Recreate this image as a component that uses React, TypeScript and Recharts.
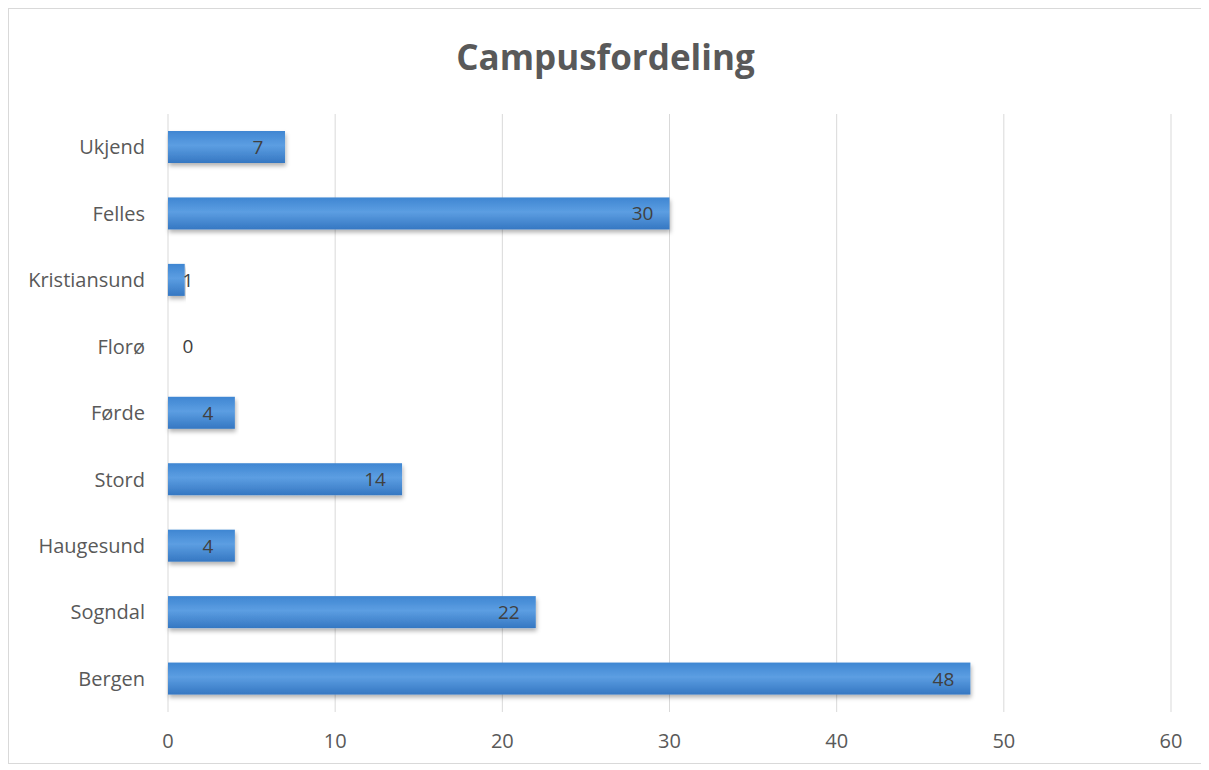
import { BarChart, Bar, XAxis, YAxis, CartesianGrid, LabelList } from "recharts";

const campuses = ["Ukjend", "Felles", "Kristiansund", "Florø", "Førde", "Stord", "Haugesund", "Sogndal", "Bergen"];
const counts = [7, 30, 1, 0, 4, 14, 4, 22, 48];
const xTicks = [0, 10, 20, 30, 40, 50, 60];

const data = campuses.map((name, i) => ({ name, count: counts[i] }));

const tickStyle = { fill: "#595959", fontSize: 20, fontFamily: "Open Sans" };

type LabelProps = {
  x?: number | string;
  y?: number | string;
  width?: number | string;
  height?: number | string;
  value?: number | string;
};

const InsideEndLabel = (props: LabelProps) => {
  const x = Number(props.x);
  const y = Number(props.y);
  const w = Number(props.width);
  const h = Number(props.height);
  const cx = Math.max(x + w - 27, x + 20);
  return (
    <text
      x={cx}
      y={y + h / 2}
      textAnchor="middle"
      dominantBaseline="central"
      fill="#404040"
      fontSize={19}
      fontFamily="Open Sans"
    >
      {props.value}
    </text>
  );
};

type ShapeProps = {
  x?: number;
  y?: number;
  width?: number;
  height?: number;
  value?: number | number[];
  payload?: { count: number };
};

// zero-valued bars keep their label but draw no rectangle
const BarShape = (props: ShapeProps) => {
  if (!props.payload || props.payload.count === 0) return <g />;
  return (
    <rect
      x={props.x}
      y={props.y}
      width={props.width}
      height={props.height}
      fill="url(#barFill)"
      filter="url(#barShadow)"
    />
  );
};

export default function App() {
  return (
    <div
      style={{
        position: "relative",
        width: 1193,
        height: 754,
        border: "1px solid #d9d9d9",
        background: "#fff",
      }}
    >
      <div
        style={{
          position: "absolute",
          top: 24,
          left: 0,
          width: "100%",
          textAlign: "center",
          fontFamily: "Open Sans",
          fontWeight: 700,
          fontSize: 35,
          color: "#595959",
        }}
      >
        Campusfordeling
      </div>
      <BarChart
        width={1193}
        height={754}
        data={data}
        layout="vertical"
        margin={{ top: 105, right: 31, bottom: 11, left: 0 }}
        barCategoryGap={17}
      >
        <defs>
          <linearGradient id="barFill" x1="0" y1="0" x2="0" y2="1">
            <stop offset="0%" stopColor="#3f86d2" />
            <stop offset="45%" stopColor="#5c9ee2" />
            <stop offset="100%" stopColor="#3577c2" />
          </linearGradient>
          <filter id="barShadow" x="-5%" y="-20%" width="110%" height="160%">
            <feDropShadow dx="1" dy="3" stdDeviation="2" floodColor="#000" floodOpacity="0.3" />
          </filter>
        </defs>
        <CartesianGrid horizontal={false} stroke="#d9d9d9" />
        <XAxis
          type="number"
          domain={[0, 60]}
          ticks={xTicks}
          axisLine={false}
          tickLine={false}
          tickSize={0}
          tickMargin={22}
          height={40}
          tick={tickStyle}
        />
        <YAxis
          type="category"
          dataKey="name"
          width={159}
          axisLine={false}
          tickLine={false}
          tickSize={0}
          tickMargin={23}
          tick={tickStyle}
        />
        <Bar
          dataKey="count"
          barSize={32}
          minPointSize={1}
          shape={BarShape}
          isAnimationActive={false}
        >
          <LabelList dataKey="count" content={InsideEndLabel} />
        </Bar>
      </BarChart>
    </div>
  );
}
